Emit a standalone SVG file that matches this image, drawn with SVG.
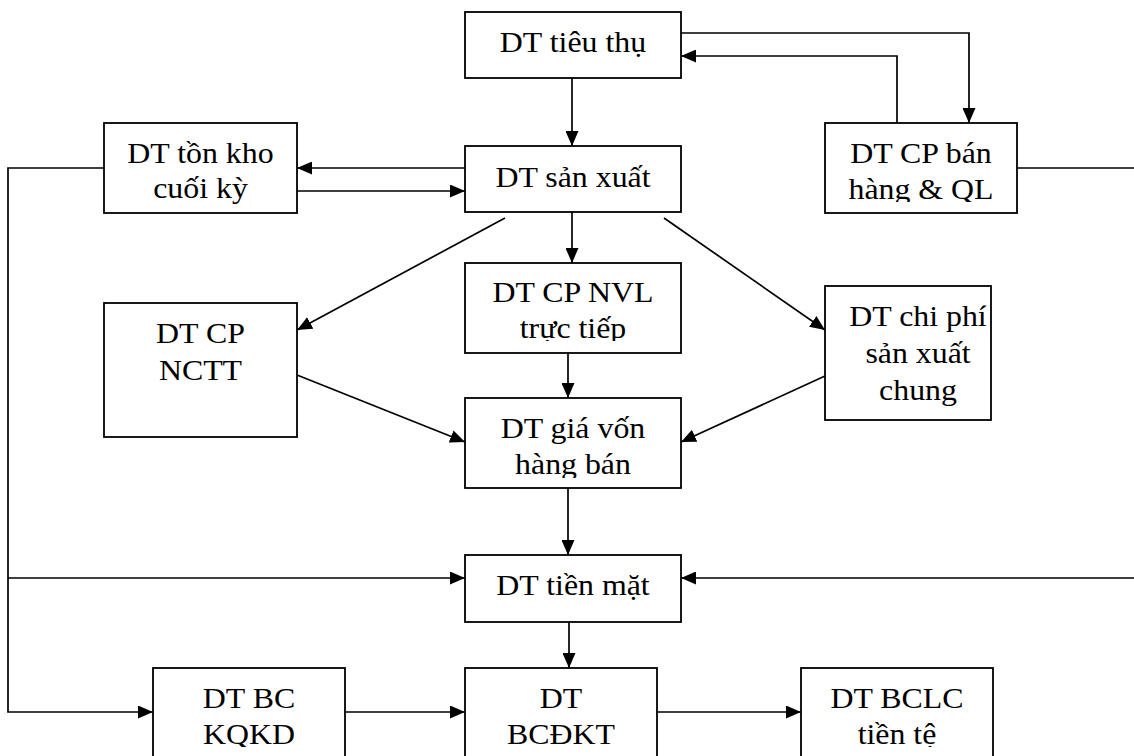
<svg xmlns="http://www.w3.org/2000/svg" width="1134" height="756" viewBox="0 0 1134 756">
  <style>
    .box { fill: #ffffff; stroke: #000000; stroke-width: 1.8; }
    .t { font-family: "Liberation Serif", "Times New Roman", serif; font-size: 29.5px; fill: #000000; text-anchor: middle; }
    .c { fill: none; stroke: #000000; stroke-width: 1.7; }
    .a { marker-end: url(#head); }
  </style>
  <defs>
    <marker id="head" markerUnits="userSpaceOnUse" markerWidth="15" markerHeight="13" viewBox="0 0 15 13" refX="15" refY="6.5" orient="auto">
      <path d="M0,0 L15,6.5 L0,13 Z" fill="#000000"/>
    </marker>
    <!-- text areas cut off at the bottom of their boxes -->
    <clipPath id="clip-tonkho" clipPathUnits="userSpaceOnUse"><rect x="104" y="123" width="193" height="81"/></clipPath>
    <clipPath id="clip-banhang" clipPathUnits="userSpaceOnUse"><rect x="825" y="123" width="192" height="79"/></clipPath>
    <clipPath id="clip-nvl" clipPathUnits="userSpaceOnUse"><rect x="465" y="263" width="216" height="78"/></clipPath>
    <clipPath id="clip-giavon" clipPathUnits="userSpaceOnUse"><rect x="465" y="398" width="216" height="80"/></clipPath>
    <clipPath id="clip-bottom" clipPathUnits="userSpaceOnUse"><rect x="0" y="668" width="1134" height="79"/></clipPath>
  </defs>

  <rect x="0" y="0" width="1134" height="756" fill="#ffffff"/>

  <!-- connectors -->
  <g id="connectors">
    <path class="c a" d="M681,33 H969 V123"/>
    <path class="c a" d="M897,123 V56 H681"/>
    <path class="c a" d="M572,78 V146"/>
    <path class="c a" d="M465,168 H297"/>
    <path class="c a" d="M297,191 H465"/>
    <path class="c a" d="M104,168 H8 V712 H153"/>
    <path class="c a" d="M8,578 H465"/>
    <path class="c a" d="M1017,168 H1140 V578 H681"/>
    <path class="c a" d="M572,212 V263"/>
    <path class="c a" d="M505,218 L297,330"/>
    <path class="c a" d="M664,218 L825,330"/>
    <path class="c a" d="M568,353 V398"/>
    <path class="c a" d="M297,375 L465,442"/>
    <path class="c a" d="M825,376 L681,442"/>
    <path class="c a" d="M568,488 V555"/>
    <path class="c a" d="M569,622 V668"/>
    <path class="c a" d="M345,712 H465"/>
    <path class="c a" d="M657,712 H801"/>
  </g>

  <g id="dt-tieu-thu">
    <rect class="box" x="465" y="12" width="216" height="66"/>
    <text class="t" transform="translate(573 52) scale(1.08 1)">DT tiêu thụ</text>
  </g>

  <g id="dt-san-xuat">
    <rect class="box" x="465" y="146" width="216" height="66"/>
    <text class="t" transform="translate(573 187) scale(1.08 1)">DT sản xuất</text>
  </g>

  <g id="dt-ton-kho">
    <rect class="box" x="104" y="123" width="193" height="90"/>
    <g clip-path="url(#clip-tonkho)">
      <text class="t" transform="translate(200.5 163) scale(1.08 1)"><tspan x="0">DT tồn kho</tspan><tspan x="0" dy="35.5">cuối kỳ</tspan></text>
    </g>
  </g>

  <g id="dt-cp-ban-hang">
    <rect class="box" x="825" y="123" width="192" height="90"/>
    <g clip-path="url(#clip-banhang)">
      <text class="t" transform="translate(921 163) scale(1.08 1)"><tspan x="0">DT CP bán</tspan><tspan x="0" dy="36">hàng &amp; QL</tspan></text>
    </g>
  </g>

  <g id="dt-cp-nctt">
    <rect class="box" x="104" y="303" width="193" height="134"/>
    <text class="t" transform="translate(200.5 343) scale(1.08 1)"><tspan x="0">DT CP</tspan><tspan x="0" dy="37">NCTT</tspan></text>
  </g>

  <g id="dt-cp-nvl">
    <rect class="box" x="465" y="263" width="216" height="90"/>
    <g clip-path="url(#clip-nvl)">
      <text class="t" transform="translate(573 302) scale(1.08 1)"><tspan x="0">DT CP NVL</tspan><tspan x="0" dy="36">trực tiếp</tspan></text>
    </g>
  </g>

  <g id="dt-chi-phi-sxc">
    <rect class="box" x="825" y="286" width="166" height="134"/>
    <text class="t" transform="translate(918 326) scale(1.08 1)"><tspan x="0">DT chi phí</tspan><tspan x="0" dy="37">sản xuất</tspan><tspan x="0" dy="37">chung</tspan></text>
  </g>

  <g id="dt-gia-von">
    <rect class="box" x="465" y="398" width="216" height="90"/>
    <g clip-path="url(#clip-giavon)">
      <text class="t" transform="translate(573 438) scale(1.08 1)"><tspan x="0">DT giá vốn</tspan><tspan x="0" dy="36">hàng bán</tspan></text>
    </g>
  </g>

  <g id="dt-tien-mat">
    <rect class="box" x="465" y="555" width="216" height="67"/>
    <text class="t" transform="translate(573 595) scale(1.08 1)">DT tiền mặt</text>
  </g>

  <g id="dt-bc-kqkd">
    <rect class="box" x="153" y="668" width="192" height="100"/>
    <g clip-path="url(#clip-bottom)">
      <text class="t" transform="translate(249 708) scale(1.08 1)"><tspan x="0">DT BC</tspan><tspan x="0" dy="36">KQKD</tspan></text>
    </g>
  </g>

  <g id="dt-bcdkt">
    <rect class="box" x="465" y="668" width="192" height="100"/>
    <g clip-path="url(#clip-bottom)">
      <text class="t" transform="translate(561 708) scale(1.08 1)"><tspan x="0">DT</tspan><tspan x="0" dy="36">BCĐKT</tspan></text>
    </g>
  </g>

  <g id="dt-bclc">
    <rect class="box" x="801" y="668" width="192" height="100"/>
    <g clip-path="url(#clip-bottom)">
      <text class="t" transform="translate(897 708) scale(1.08 1)"><tspan x="0">DT BCLC</tspan><tspan x="0" dy="36">tiền tệ</tspan></text>
    </g>
  </g>
</svg>
